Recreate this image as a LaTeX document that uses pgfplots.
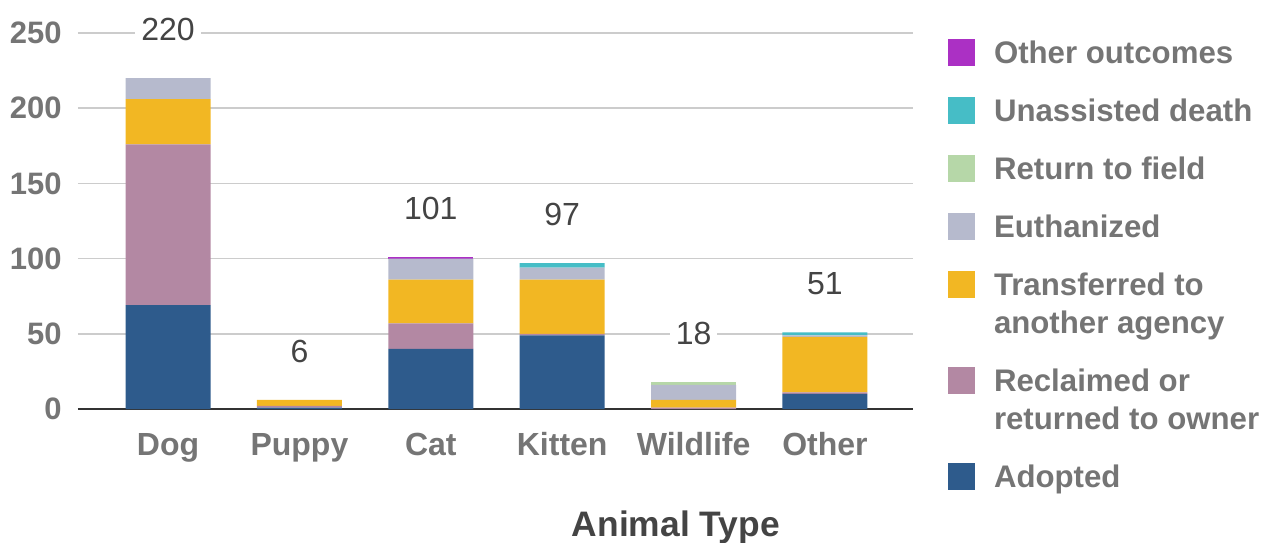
\documentclass[border=0pt]{standalone}
\usepackage{pgfplots}
\pgfplotsset{compat=1.18}
\usepackage{fontspec}
\setmainfont{Liberation Sans}
\definecolor{cadopt}{HTML}{2E5B8C}
\definecolor{creclaim}{HTML}{B388A3}
\definecolor{ctransfer}{HTML}{F2B723}
\definecolor{ceuth}{HTML}{B6BACD}
\definecolor{cfield}{HTML}{B6D7A8}
\definecolor{cdeath}{HTML}{46BDC6}
\definecolor{cother}{HTML}{AB30C4}
\definecolor{tickgray}{HTML}{757575}
\definecolor{labgray}{HTML}{444444}
\definecolor{gridgray}{HTML}{CCCCCC}
\newcommand{\mainrow}{\rule[-4pt]{0pt}{31.5pt}}
\newcommand{\controw}{\rule[-4pt]{0pt}{21.5pt}}
\begin{document}
\begin{tikzpicture}
\useasboundingbox (-39pt,-66.5pt) rectangle (593pt,204.5pt);
\begin{axis}[
  at={(0,0)}, anchor=south west,
  scale only axis, width=417.5pt, height=188pt,
  ybar stacked, bar width=42.5pt,
  xmin=-0.685, xmax=5.67, ymin=0, ymax=250,
  xtick={0,1,2,3,4,5},
  xticklabels={Dog,Puppy,Cat,Kitten,Wildlife,Other},
  ytick={0,50,100,150,200,250},
  /pgf/number format/assume math mode=true,
  ymajorgrids, grid style={line width=0.8pt, gridgray},
  axis x line*=bottom, axis y line*=left,
  x axis line style={-, line width=1pt, color=black!80},
  y axis line style={draw=none},
  major tick length=0pt, tick style={draw=none},
  yticklabel style={font=\bfseries\fontsize{15.5}{18}\selectfont, text=tickgray, anchor=east, inner sep=0pt, xshift=-8pt},
  xticklabel style={font=\bfseries\fontsize{16}{19}\selectfont, text=tickgray, anchor=base, inner sep=0pt, yshift=-23pt},
  xlabel={Animal Type},
  xlabel style={font=\bfseries\fontsize{17.7}{20}\selectfont, text=labgray, at={(axis description cs:0.716,-0.3404)}, anchor=base, inner sep=0pt},
  reverse legend,
  legend style={draw=none, fill=none, at={(axis description cs:1,1)}, anchor=north west,
    xshift=17.5pt, yshift=12.25pt, inner sep=0pt, outer sep=0pt,
    font=\bfseries\fontsize{15.6}{19}\selectfont, text=tickgray,
    row sep=0pt, column sep=9.5pt,
    nodes={inner sep=0pt, outer sep=0pt},
    cells={anchor=base west}},
  legend image code/.code={\fill[#1] (0pt,-1pt) rectangle (13.5pt,12.5pt);},
]
\addplot[fill=cadopt, draw=none] coordinates {(0,69) (1,1) (2,40) (3,49) (4,0) (5,10)};
\addlegendentry{\mainrow Adopted}
\addlegendimage{empty legend}
\addlegendentry{\controw returned to owner}
\addplot[fill=creclaim, draw=none] coordinates {(0,107) (1,1) (2,17) (3,1) (4,1) (5,1)};
\addlegendentry{\mainrow Reclaimed or}
\addlegendimage{empty legend}
\addlegendentry{\controw another agency}
\addplot[fill=ctransfer, draw=none] coordinates {(0,30) (1,4) (2,29) (3,36) (4,5) (5,37)};
\addlegendentry{\mainrow Transferred to}
\addplot[fill=ceuth, draw=none] coordinates {(0,14) (1,0) (2,14) (3,8) (4,10) (5,1)};
\addlegendentry{\mainrow Euthanized}
\addplot[fill=cfield, draw=none] coordinates {(0,0) (1,0) (2,0) (3,0) (4,2) (5,0)};
\addlegendentry{\mainrow Return to field}
\addplot[fill=cdeath, draw=none] coordinates {(0,0) (1,0) (2,0) (3,3) (4,0) (5,2)};
\addlegendentry{\mainrow Unassisted death}
\addplot[fill=cother, draw=none] coordinates {(0,0) (1,0) (2,1) (3,0) (4,0) (5,0)};
\addlegendentry{\mainrow Other outcomes}
\end{axis}
\begin{axis}[
  at={(0,0)}, anchor=south west,
  scale only axis, width=417.5pt, height=188pt,
  xmin=-0.685, xmax=5.67, ymin=0, ymax=250,
  hide axis, clip=false,
  /pgf/number format/assume math mode=true,
]
\addplot[only marks, mark=none, nodes near coords, point meta=y,
  nodes near coords style={font=\fontsize{16}{19}\selectfont, text=labgray, anchor=south, fill=white, inner xsep=3pt, inner ysep=0pt, yshift=18.5pt}]
  coordinates {(0,220) (1,6) (2,101) (3,97) (4,18) (5,51)};
\end{axis}
\end{tikzpicture}
\end{document}
